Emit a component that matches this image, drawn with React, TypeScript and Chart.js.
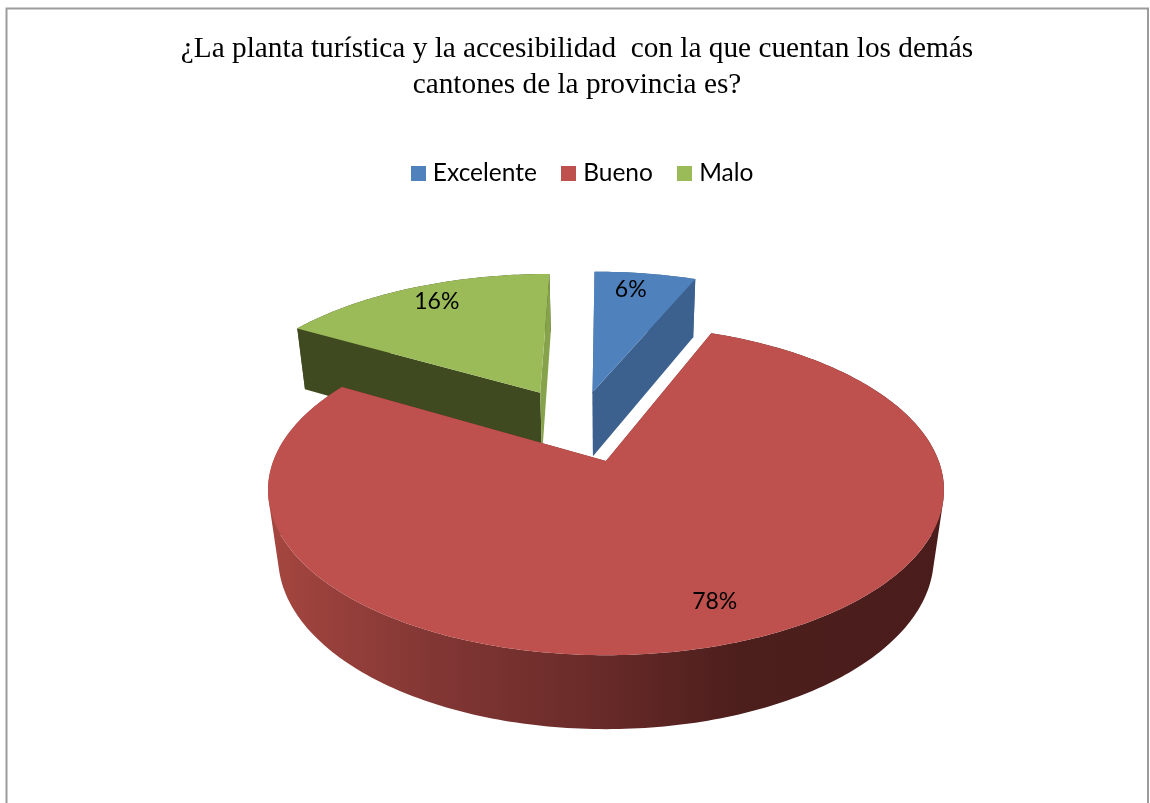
import React, { useEffect, useRef } from "react";
import { Chart, registerables } from "chart.js";

Chart.register(...registerables);

const titleLines = [
  "¿La planta turística y la accesibilidad  con la que cuentan los demás",
  "cantones de la provincia es?",
];
const categories = ["Excelente", "Bueno", "Malo"];
const shares = [6, 77.4, 16.6];
const shareLabels = ["6%", "78%", "16%"];
const topColors = ["#4F81BD", "#BE504D", "#9BBB59"];
const startFaceColors = ["#3D618F", "#7A2F2D", "#404A20"];
const endFaceColors = ["#3D618F", "#7A2F2D", "#86A34C"];
const rimColors = ["#3D618F", "", "#404A20"];
const sliceNudgeX = [-0.01, 0, -0.015];
const sliceNudgeZ = [0, 0, -0.025];
const sliceScale = [1.03, 1, 1.01];
const labelRatio = [0.88, 0.83, 0.86];
const labelNudge = [
  [-8, 1],
  [4, -5],
  [7, 0],
];

// perspective camera for the tilted pie
const CAM = { cx: 606, cy: 461, f: 332.7, g: 160, h: 69, p: 0.176, q: 0.03 };
const EXPLODE = 0.241;

function project(X: number, Z: number, Y: number) {
  const w = 1 - CAM.p * Z + CAM.q * Y;
  return { x: CAM.cx + (CAM.f * X) / w, y: CAM.cy + (CAM.g * Z + CAM.h * Y) / w };
}

function sliceGeometry(chart: any) {
  const meta = chart.getDatasetMeta(0);
  const values = chart.data.datasets[0].data as number[];
  const anchor = values.indexOf(Math.max(...values));
  const angles = meta.data.map((el: any) => el.getProps(["startAngle", "endAngle"], true));
  const mid = (a: any) => (a.startAngle + a.endAngle) / 2;
  const ax = Math.cos(mid(angles[anchor])) * EXPLODE;
  const az = Math.sin(mid(angles[anchor])) * EXPLODE;
  return angles.map((a: any, i: number) => ({
    index: i,
    start: a.startAngle,
    end: a.endAngle,
    mid: mid(a),
    r: sliceScale[i],
    ox: Math.cos(mid(a)) * EXPLODE - ax + sliceNudgeX[i],
    oz: Math.sin(mid(a)) * EXPLODE - az + sliceNudgeZ[i],
  }));
}

function rimPoints(s: any, Y: number) {
  const n = Math.max(8, Math.ceil((s.end - s.start) * 60));
  const pts = [];
  for (let i = 0; i <= n; i++) {
    const a = s.start + ((s.end - s.start) * i) / n;
    pts.push(project(s.ox + Math.cos(a) * s.r, s.oz + Math.sin(a) * s.r, Y));
  }
  return pts;
}

type Pt = { x: number; y: number };

function fillPoly(ctx: CanvasRenderingContext2D, pts: Pt[], fill: any) {
  ctx.beginPath();
  pts.forEach((p, i) => (i ? ctx.lineTo(p.x, p.y) : ctx.moveTo(p.x, p.y)));
  ctx.closePath();
  ctx.fillStyle = fill;
  ctx.fill();
}

// the outer wall, as one path of quads wound the same way so that they join up
function fillWall(ctx: CanvasRenderingContext2D, top: Pt[], bottom: Pt[], fill: any) {
  ctx.beginPath();
  for (let i = 0; i < top.length - 1; i++) {
    let q = [top[i], top[i + 1], bottom[i + 1], bottom[i]];
    let area = 0;
    q.forEach((p, j) => {
      const n = q[(j + 1) % 4];
      area += p.x * n.y - n.x * p.y;
    });
    if (area < 0) q = q.reverse();
    q.forEach((p, j) => (j ? ctx.lineTo(p.x, p.y) : ctx.moveTo(p.x, p.y)));
    ctx.closePath();
  }
  ctx.fillStyle = fill;
  ctx.fill("nonzero");
}

const framePlugin = {
  id: "frame",
  beforeDraw(chart: any) {
    const { ctx, width, height } = chart;
    ctx.save();
    ctx.fillStyle = "#fff";
    ctx.fillRect(0, 0, width, height);
    ctx.strokeStyle = "#9c9c9c";
    ctx.lineWidth = 2;
    ctx.beginPath();
    ctx.moveTo(6.5, height + 2);
    ctx.lineTo(6.5, 8.5);
    ctx.lineTo(1148, 8.5);
    ctx.lineTo(1148, height + 2);
    ctx.stroke();
    ctx.restore();
  },
  afterLayout(chart: any) {
    // the title is centred on the frame, the legend a little to the right of it
    if (chart.titleBlock) {
      chart.titleBlock.left -= 8;
      chart.titleBlock.right -= 8;
    }
  },
};

const pie3dPlugin = {
  id: "pie3d",
  beforeDatasetDraw(chart: any) {
    const ctx: CanvasRenderingContext2D = chart.ctx;
    const slices = sliceGeometry(chart).sort((a: any, b: any) => a.oz - b.oz);
    ctx.save();
    for (const s of slices) {
      const top = rimPoints(s, 0);
      const bottom = rimPoints(s, 1);
      let rimFill: any = rimColors[s.index];
      if (!rimFill) {
        const g = ctx.createLinearGradient(268, 0, 944, 0);
        g.addColorStop(0, "#A64640");
        g.addColorStop(0.22, "#853835");
        g.addColorStop(0.5, "#672A28");
        g.addColorStop(0.7, "#4C1E1C");
        g.addColorStop(1, "#4A1D1C");
        rimFill = g;
      }
      fillWall(ctx, top, bottom, rimFill);
      const a0 = project(s.ox, s.oz, 0);
      const a1 = project(s.ox, s.oz, 1);
      fillPoly(ctx, [a0, top[0], bottom[0], a1], startFaceColors[s.index]);
      fillPoly(ctx, [a0, top[top.length - 1], bottom[bottom.length - 1], a1], endFaceColors[s.index]);
      fillPoly(ctx, [a0, ...top], topColors[s.index]);
    }
    ctx.restore();
    return false;
  },
  afterDatasetsDraw(chart: any) {
    const ctx: CanvasRenderingContext2D = chart.ctx;
    ctx.save();
    ctx.font = "23px Lato";
    ctx.fillStyle = "#000";
    ctx.textAlign = "center";
    ctx.textBaseline = "middle";
    for (const s of sliceGeometry(chart)) {
      const r = labelRatio[s.index];
      const p = project(s.ox + Math.cos(s.mid) * r, s.oz + Math.sin(s.mid) * r, 0);
      ctx.fillText(shareLabels[s.index], p.x + labelNudge[s.index][0], p.y + labelNudge[s.index][1]);
    }
    ctx.restore();
  },
};

function swatch(color: string) {
  const c = document.createElement("canvas");
  c.width = 15;
  c.height = 15;
  const x = c.getContext("2d")!;
  x.fillStyle = color;
  x.fillRect(0, 0, 15, 15);
  return c;
}

export default function App() {
  const ref = useRef<HTMLCanvasElement>(null);
  useEffect(() => {
    const chart = new Chart(ref.current!, {
      type: "pie",
      data: {
        labels: categories,
        datasets: [{ data: shares, backgroundColor: topColors, borderWidth: 0 }],
      },
      options: {
        responsive: false,
        animation: false,
        layout: { padding: { left: 20, top: 31 } },
        plugins: {
          tooltip: { enabled: false },
          title: {
            display: true,
            text: titleLines,
            color: "#000",
            font: { family: "'Liberation Serif'", size: 29.3, weight: "normal", lineHeight: 1.23 },
            padding: { top: 0, bottom: 28 },
          },
          legend: {
            display: true,
            position: "top",
            labels: {
              usePointStyle: true,
              pointStyleWidth: 4,
              boxHeight: 15,
              padding: 30,
              color: "#000",
              font: { family: "Lato", size: 24.5 },
              generateLabels: () =>
                categories.map((text, i) => ({
                  text,
                  fillStyle: topColors[i],
                  strokeStyle: topColors[i],
                  lineWidth: 0,
                  hidden: false,
                  index: i,
                  datasetIndex: 0,
                  pointStyle: swatch(topColors[i]),
                })),
            },
          },
        },
      } as any,
      plugins: [framePlugin, pie3dPlugin],
    } as any);
    return () => chart.destroy();
  }, []);
  return (
    <canvas
      ref={ref}
      width={1150}
      height={803}
      style={{ position: "absolute", left: 0, top: 0, display: "block" }}
    />
  );
}
